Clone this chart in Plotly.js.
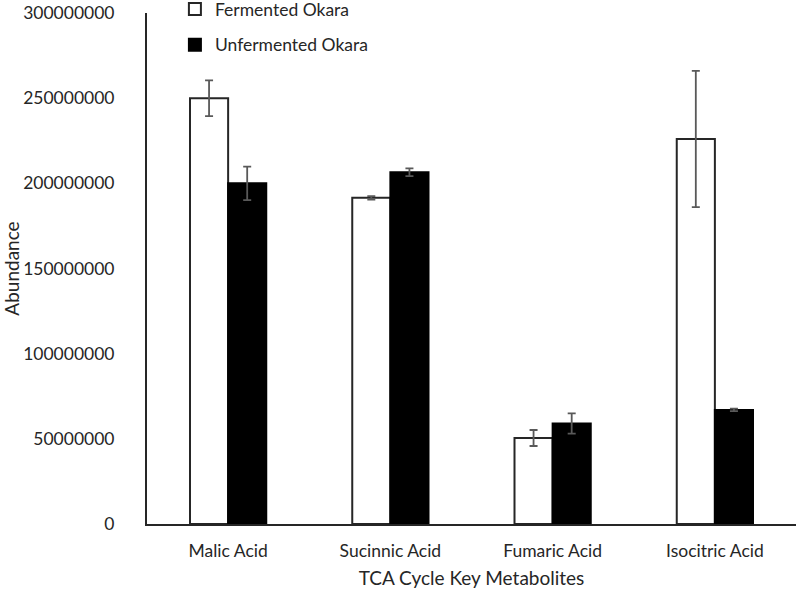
<!DOCTYPE html>
<html>
<head>
<meta charset="utf-8">
<script src="https://cdn.plot.ly/plotly-3.0.1.min.js"></script>
<style>html,body{margin:0;padding:0;background:#fff;}#chart{width:797px;height:598px;}</style>
</head>
<body>
<div id="chart"></div>
<script>
const categories = ["Malic Acid", "Sucinnic Acid", "Fumaric Acid", "Isocitric Acid"];
const fermented = [250000000, 191500000, 50500000, 226000000];
const fermentedErr = [10500000, 1000000, 4700000, 40000000];
const unfermented = [200000000, 206500000, 59000000, 67000000];
const unfermentedErr = [9800000, 2300000, 6000000, 700000];
const yTicks = [0, 50000000, 100000000, 150000000, 200000000, 250000000, 300000000];
const yTickLabels = ["0", "50000000", "100000000", "150000000", "200000000", "250000000", "300000000"];

const FONT = "Lato, 'Open Sans', sans-serif";
const TXT = "#262626";

const errStyle = {type: "data", visible: true, color: "#595959", thickness: 1.8, width: 4};

const data = [
  {
    type: "bar", name: "Fermented Okara", x: categories, y: fermented,
    marker: {color: "#ffffff", line: {color: "#262626", width: 2}},
    error_y: Object.assign({array: fermentedErr}, errStyle),
    legendgroup: "a"
  },
  {
    type: "bar", name: "Unfermented Okara", x: categories, y: unfermented,
    marker: {color: "#000000", line: {color: "#000000", width: 2}},
    error_y: Object.assign({array: unfermentedErr}, errStyle),
    legendgroup: "b"
  }
];

const layout = {
  width: 797, height: 598,
  margin: {l: 147, r: 1, t: 13, b: 74, pad: 0, autoexpand: false},
  paper_bgcolor: "#ffffff", plot_bgcolor: "#ffffff",
  font: {family: FONT, size: 17.5, color: TXT},
  barmode: "group", bargap: 0.53, bargroupgap: 0,
  showlegend: true,
  legend: {
    x: 0.043, y: 1.043, xanchor: "left", yanchor: "top",
    font: {family: FONT, size: 17.5, color: TXT},
    bgcolor: "rgba(0,0,0,0)", traceorder: "grouped", tracegroupgap: 10,
    itemwidth: 30
  },
  xaxis: {
    type: "category",
    showline: true, linecolor: "#262626", linewidth: 2,
    ticks: "", showgrid: false, zeroline: false,
    tickfont: {family: FONT, size: 17.5, color: TXT},
    ticklabelstandoff: 10,
    title: {text: "TCA Cycle Key Metabolites", font: {family: FONT, size: 19, color: TXT}, standoff: 12}
  },
  yaxis: {
    range: [0, 300000000],
    tickvals: yTicks, ticktext: yTickLabels,
    showline: true, linecolor: "#262626", linewidth: 2,
    ticks: "", showgrid: false, zeroline: false,
    tickfont: {family: FONT, size: 17.5, color: TXT},
    ticklabelstandoff: 27,
    title: {text: "Abundance", font: {family: FONT, size: 19, color: TXT}, standoff: 10}
  }
};

Plotly.newPlot("chart", data, layout, {staticPlot: true, displayModeBar: false});
</script>
</body>
</html>
